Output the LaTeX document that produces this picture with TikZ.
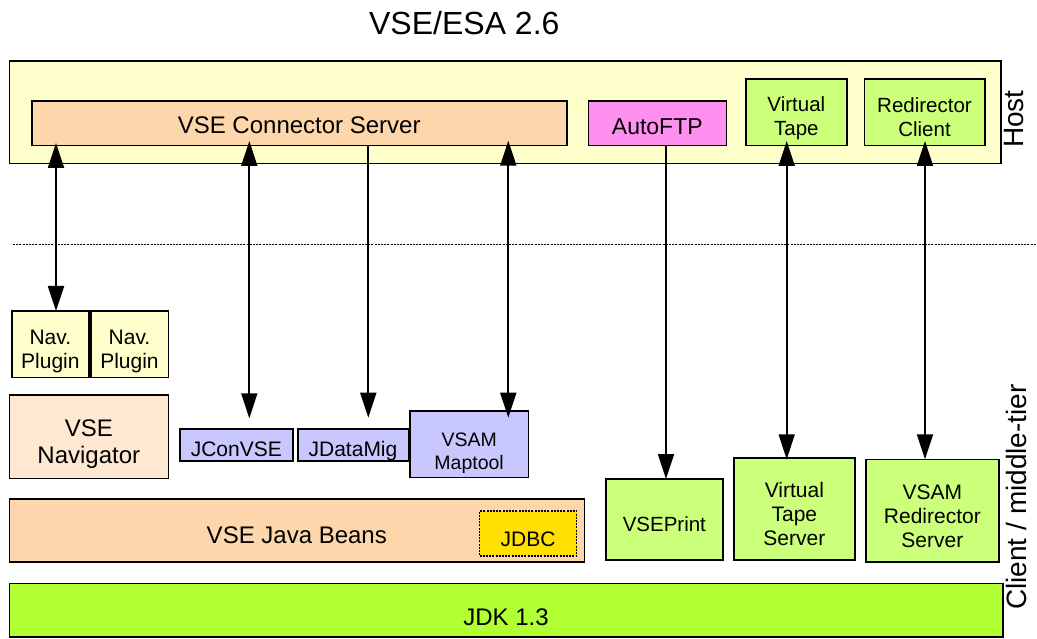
\documentclass[tikz,border=0pt]{standalone}
\usepackage{fontspec}
\setmainfont{Liberation Sans}
\usetikzlibrary{arrows.meta}
\definecolor{hostY}{HTML}{FFFFCC}
\definecolor{peachC}{HTML}{FDD6AB}
\definecolor{navC}{HTML}{FFE8D2}
\definecolor{pinkC}{HTML}{FF90F0}
\definecolor{limeC}{HTML}{CCFF7A}
\definecolor{lavC}{HTML}{C8C8FF}
\definecolor{goldC}{HTML}{FFE000}
\definecolor{jdkC}{HTML}{B2FF33}
\newcommand\tb[2][4.5pt]{\raisebox{\dimexpr-#1-3pt\relax}[\height][\depth]{\begin{tabular}{@{}c@{}}#2\end{tabular}}}
\begin{document}
\begin{tikzpicture}[x=1pt,y=-1pt,
  box/.style={draw=black, line width=1.6pt, outer sep=0pt, inner sep=0pt, anchor=north west},
  dbl/.style={line width=1.8pt, {Triangle[length=25pt,width=16pt]}-{Triangle[length=25pt,width=16pt]}},
  sgl/.style={line width=1.8pt, -{Triangle[length=25pt,width=16pt]}},
  fA/.style={font=\fontsize{24}{27}\selectfont},
  fB/.style={font=\fontsize{21}{24}\selectfont},
  fC/.style={font=\fontsize{20.5}{24}\selectfont},
  fD/.style={font=\fontsize{19.5}{23}\selectfont},
  side/.style={rotate=90, anchor=base west, inner sep=0pt, font=\fontsize{28}{32}\selectfont}]
\useasboundingbox (0,0) rectangle (1037,639);

% title
\node[anchor=base, inner sep=0pt, font=\fontsize{32}{36}\selectfont] (title) at (464.3,35) {VSE/ESA 2.6};

% host area
\node[box, fill=hostY, minimum width=991.4pt, minimum height=102.7pt] (host) at (9.3,61) {};
\node[box, fill=peachC, fA, minimum width=535pt, minimum height=44.7pt] (conn) at (31.7,101) {\tb[1.3pt]{VSE Connector Server}};
\node[box, fill=pinkC, font=\fontsize{23}{26}\selectfont, minimum width=138pt, minimum height=44.7pt] (autoftp) at (588.3,101) {\tb[2.9pt]{AutoFTP}};
\node[box, fill=limeC, fC, minimum width=100.7pt, minimum height=66.4pt] (vtape) at (746,79.3) {\tb[3pt]{Virtual\\Tape}};
\node[box, fill=limeC, fC, minimum width=120.4pt, minimum height=66.4pt] (redir) at (864.3,79.3) {\tb[4pt]{Redirector\\Client}};
\node[side] (hostlbl) at (1023,148) {Host};

% separator
\coordinate (d1) at (13,245);
\coordinate (d2) at (1037,245);
\draw[line width=1pt, dash pattern=on 2pt off 1.2pt] (d1) -- (d2);

% client / middle tier
\node[box, fill=hostY, fB, minimum width=77.3pt, minimum height=66.3pt] (plug1) at (11.7,311) {\tb{Nav.\\Plugin}};
\node[box, fill=hostY, fB, minimum width=77.6pt, minimum height=66.3pt] (plug2) at (90.7,311) {\tb{Nav.\\Plugin}};
\node[box, fill=navC, fA, minimum width=159pt, minimum height=83.3pt] (nav) at (9.3,395) {\tb[5pt]{VSE\\Navigator}};
\node[box, fill=lavC, fB, minimum width=112.7pt, minimum height=32pt] (jcon) at (180,429) {\tb[3.5pt]{JConVSE}};
\node[box, fill=lavC, fB, minimum width=110.6pt, minimum height=32pt] (jdata) at (297.7,429) {\tb[3.5pt]{JDataMig}};
\node[box, fill=lavC, fD, minimum width=118.3pt, minimum height=66.3pt] (maptool) at (410,411) {\tb[6pt]{VSAM\\Maptool}};
\node[box, fill=peachC, fA, minimum width=575pt, minimum height=62.7pt] (beans) at (9.3,499) {\tb[4.7pt]{VSE Java Beans}};
\node[box, fill=goldC, fB, line width=1.2pt, dash pattern=on 2pt off 1.2pt, minimum width=97.2pt, minimum height=45pt] (jdbc) at (479.5,511) {\tb[4.8pt]{JDBC}};
\node[box, fill=limeC, fC, minimum width=116.7pt, minimum height=81pt] (vseprint) at (606,479) {\tb{VSEPrint}};
\node[box, fill=limeC, fB, minimum width=120.7pt, minimum height=102.3pt] (vts) at (734,457.7) {\tb[5pt]{Virtual\\Tape\\Server}};
\node[box, fill=limeC, fB, minimum width=132.7pt, minimum height=102.4pt] (vrs) at (866,459.3) {\tb[5pt]{VSAM\\Redirector\\Server}};
\node[box, fill=jdkC, fA, minimum width=993.4pt, minimum height=53.7pt] (jdk) at (9.3,583.3) {\tb[7pt]{JDK 1.3}};
\node[side] (clientlbl) at (1026,610) {Client / middle-tier};

% connectors
\coordinate (x1) at (56,0);
\coordinate (x2) at (249.3,0);
\coordinate (x3) at (368.3,0);
\coordinate (x4) at (508.3,0);
\coordinate (x5) at (666,0);
\coordinate (x6) at (786.7,0);
\coordinate (x7) at (925,0);
\draw[dbl, shorten <=-2.7pt] (conn.south -| x1) -- (plug1.north -| x1);
\draw[dbl, shorten <=-4.7pt, shorten >=10.7pt] (conn.south -| x2) -- (jcon.north -| x2);
\draw[sgl, shorten >=11.3pt] (conn.south -| x3) -- (jdata.north -| x3);
\draw[dbl, shorten <=-5pt, shorten >=-6.7pt] (conn.south -| x4) -- (maptool.north -| x4);
\draw[sgl] (autoftp.south -| x5) -- (vseprint.north -| x5);
\draw[dbl, shorten <=-4.7pt, shorten >=-1.6pt] (vtape.south -| x6) -- (vts.north -| x6);
\draw[dbl, shorten <=-4.7pt] (redir.south -| x7) -- (vrs.north -| x7);
\end{tikzpicture}
\end{document}
